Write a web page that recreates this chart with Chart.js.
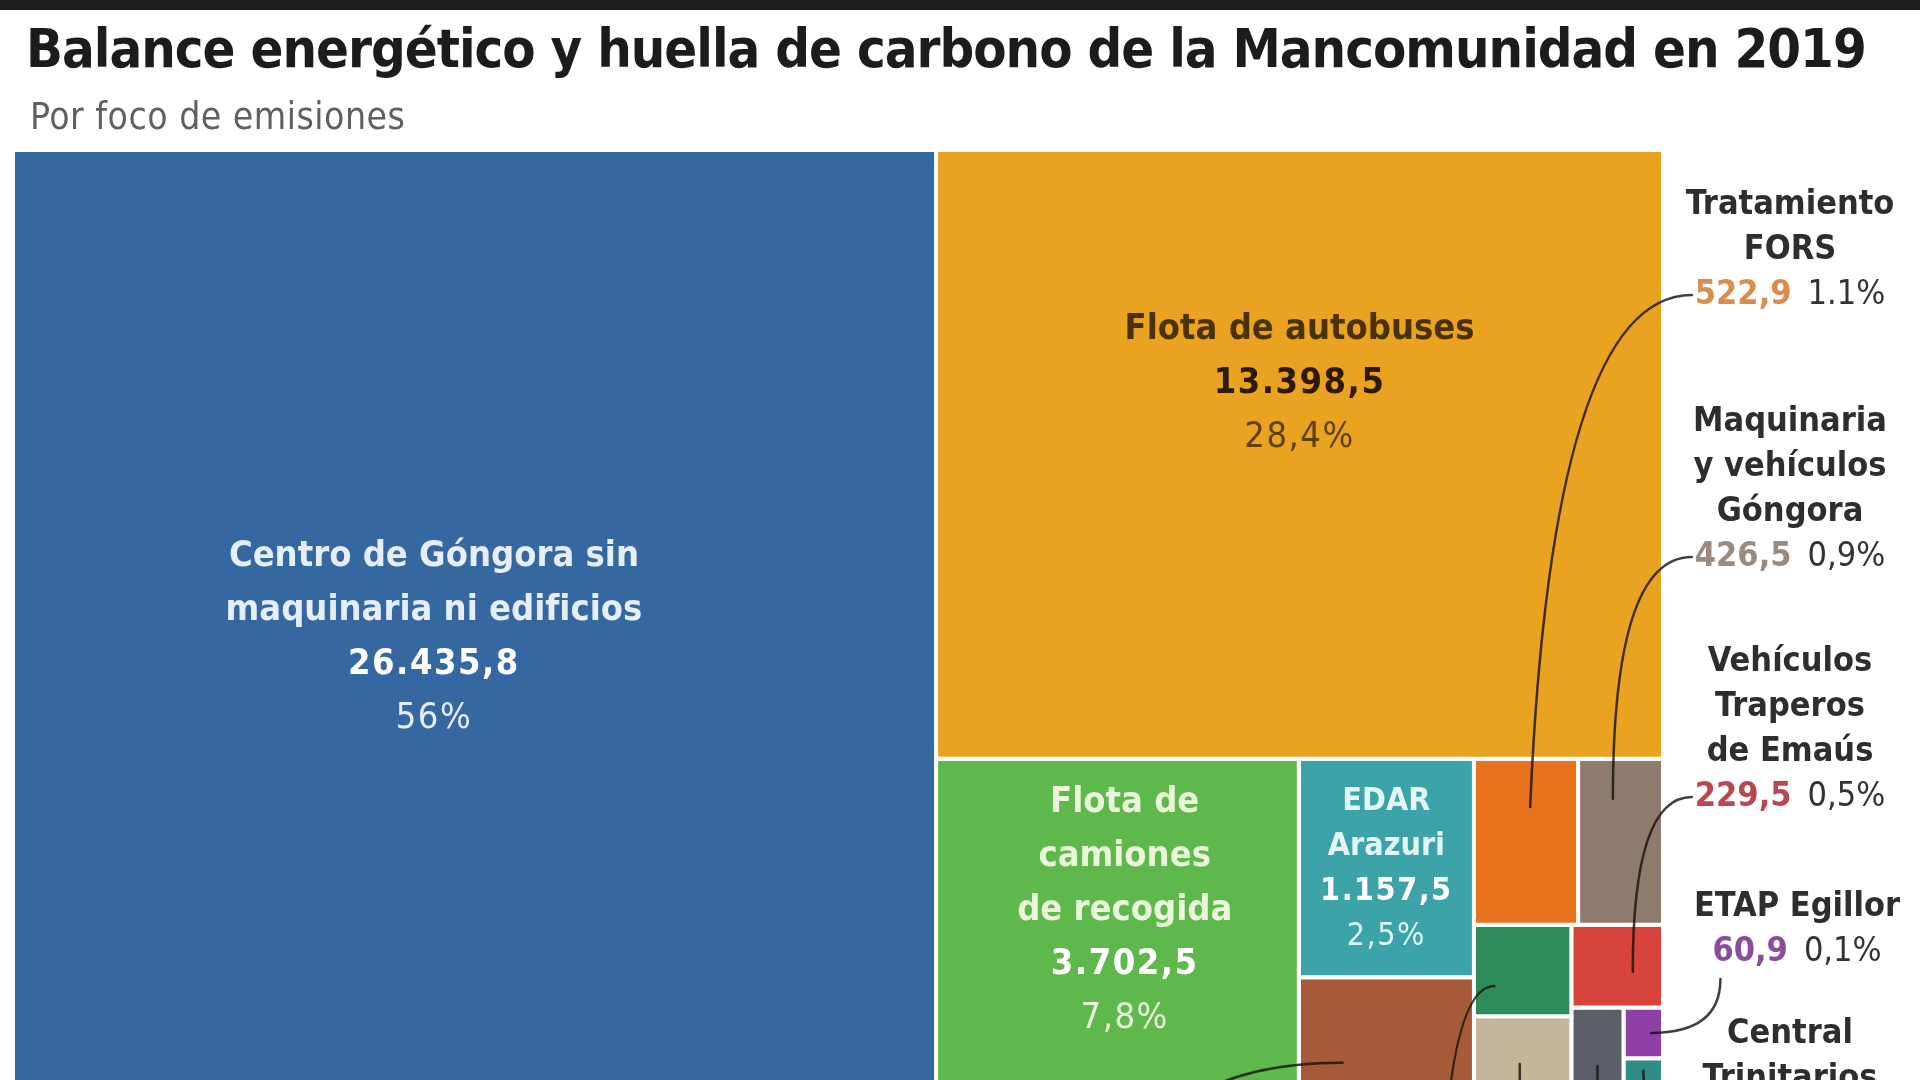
<!DOCTYPE html>
<html lang="es">
<head>
<meta charset="utf-8">
<title>Balance energético y huella de carbono de la Mancomunidad en 2019</title>
<script src="https://cdn.jsdelivr.net/npm/chart.js@4.4.1/dist/chart.umd.min.js"></script>
<style>
  html, body { margin: 0; padding: 0; background: #fff; overflow: hidden; }
  body { width: 1920px; height: 1080px; position: relative; font-family: 'DejaVu Sans Condensed', 'DejaVu Sans', sans-serif; }
  .topbar { position: absolute; left: 0; top: 0; width: 1920px; height: 10px; background: #1e1e1c; }
  #treemap { position: absolute; left: 0; top: 0; }
  h1 { position: absolute; left: 26px; top: 17px; margin: 0; font-size: 54px; line-height: 64px; font-weight: bold; color: #1c1c1c; letter-spacing: -1px; white-space: nowrap; }
  .sub { position: absolute; left: 30px; top: 97px; font-size: 37px; line-height: 40px; color: #606060; letter-spacing: 0.5px; }
</style>
</head>
<body>
<canvas id="treemap" width="1920" height="1100"></canvas>
<div class="topbar"></div>
<h1>Balance energético y huella de carbono de la Mancomunidad en 2019</h1>
<div class="sub">Por foco de emisiones</div>
<script>
// 1. DATOS: emisiones por foco (t CO2 eq, 2019)
// null = foco cuyo rótulo queda fuera del recorte de la imagen
const focos = [
  'Centro de Góngora sin maquinaria ni edificios',
  'Flota de autobuses',
  'Flota de camiones de recogida',
  'EDAR Arazuri',
  null,
  'Tratamiento FORS',
  'Maquinaria y vehículos Góngora',
  null,
  null,
  'Vehículos Traperos de Emaús',
  null,
  'ETAP Egillor',
  'Central Trinitarios'
];
const emisiones = [26435.8, 13398.5, 3702.5, 1157.5, 630, 522.9, 426.5, 270, 235, 229.5, 140, 60.9, 45];
const porcentajes = ['56%', '28,4%', '7,8%', '2,5%', '', '1.1%', '0,9%', '', '', '0,5%', '', '0,1%', ''];
const colores = ['#3567a0', '#eaa320', '#5fb84b', '#3ca3a9', '#a75a37', '#e8721d', '#8f7a6f',
                 '#2e8c5b', '#c4b69b', '#d8433b', '#5a5e66', '#8e40a7', '#2f8c86'];

// marco del treemap (unidades de las escalas)
const MARCO_W = 1650, MARCO_H = 946;

// 2. ROTULOS (solo colocación y estilo)
const rotulosDentro = [
  { i: 0, lineas: ['Centro de Góngora sin', 'maquinaria ni edificios'], fx: 0.456, fy: 0.515, lh: 54, size: 36,
    texto: '#e6eef7', valor: '#ffffff', pct: '#e6eef7' },
  { i: 1, lineas: ['Flota de autobuses'], fx: 0.5, fy: 0.384, lh: 54, size: 36,
    texto: '#4a3208', valor: '#2b1a04', pct: '#5e400c' },
  { i: 2, lineas: ['Flota de', 'camiones', 'de recogida'], fx: 0.52, fy: 0.45, lh: 54, size: 36,
    texto: '#eaf6dc', valor: '#ffffff', pct: '#eaf6dc' },
  { i: 3, lineas: ['EDAR', 'Arazuri'], fx: 0.5, fy: 0.505, lh: 45, size: 32,
    texto: '#e2f6f6', valor: '#ffffff', pct: '#e2f6f6' }
];
const rotulosFuera = [
  { i: 5, lineas: ['Tratamiento', 'FORS'], x: 1790, y: 205, desde: [0.54, 0.29], color: '#dc8d4b', curva: 'vh', dx: 22 },
  { i: 6, lineas: ['Maquinaria', 'y vehículos', 'Góngora'], x: 1790, y: 422, desde: [0.41, 0.24], color: '#9a8a80', curva: 'vh' },
  { i: 9, lineas: ['Vehículos', 'Traperos', 'de Emaús'], x: 1790, y: 662, desde: [0.67, 0.57], color: '#b9474f', curva: 'vh' },
  { i: 11, lineas: ['ETAP Egillor'], x: 1797, y: 907, desde: [0.7, 0.5], color: '#8b4c9c', curva: 'hv' },
  { i: 12, lineas: ['Central', 'Trinitarios'], x: 1790, y: 1034, desde: [0.5, 0.33], curva: 'vh', hacia: [1700, 1122] }
];
// guías hacia rótulos que quedan por debajo del recorte
const guiasSueltas = [
  { i: 4, desde: [0.25, 0.72], hacia: [1120, 1250], curva: 'hv' },
  { i: 7, desde: [0.21, 0.67], hacia: [1440, 1300], curva: 'hv' },
  { i: 8, desde: [0.47, 0.6], hacia: [1560, 1250], curva: 'vh' },
  { i: 10, desde: [0.5, 0.66], hacia: [1640, 1250], curva: 'vh' }
];

const FUENTE = '"DejaVu Sans Condensed", "DejaVu Sans", sans-serif';

function formatoES(v) {
  const [ent, dec] = v.toFixed(1).split('.');
  return ent.replace(/\B(?=(\d{3})+(?!\d))/g, '.') + ',' + dec;
}

// 3. TREEMAP SQUARIFIED (orden de los datos)
function squarify(values, x0, y0, x1, y1) {
  const rects = [];
  const n = values.length;
  let value = values.reduce((a, b) => a + b, 0);
  let i0 = 0;
  while (i0 < n) {
    const dx = x1 - x0, dy = y1 - y0;
    let i1 = i0;
    let sum = values[i1++], minV = sum, maxV = sum;
    const alpha = Math.max(dy / dx, dx / dy) / value;
    let beta = sum * sum * alpha;
    let minRatio = Math.max(maxV / beta, beta / minV);
    for (; i1 < n; ++i1) {
      const v = values[i1];
      const s = sum + v;
      const mn = Math.min(minV, v), mx = Math.max(maxV, v);
      beta = s * s * alpha;
      const r = Math.max(mx / beta, beta / mn);
      if (r > minRatio) break;
      sum = s; minV = mn; maxV = mx; minRatio = r;
    }
    if (dx < dy) { // fila arriba
      const h = dy * sum / value;
      let x = x0;
      for (let k = i0; k < i1; k++) {
        const w = dx * values[k] / sum;
        rects[k] = { x0: x, x1: x + w, y0: y0, y1: y0 + h };
        x += w;
      }
      y0 += h;
    } else { // columna a la izquierda
      const w = dx * sum / value;
      let y = y0;
      for (let k = i0; k < i1; k++) {
        const h = dy * values[k] / sum;
        rects[k] = { x0: x0, x1: x0 + w, y0: y, y1: y + h };
        y += h;
      }
      x0 += w;
    }
    value -= sum;
    i0 = i1;
  }
  return rects;
}

const celdas = squarify(emisiones, 0, 0, MARCO_W, MARCO_H);

const datasets = celdas.map((r, k) => ({
  label: focos[k] || '',
  data: [
    { x: r.x0, y: r.y0 }, { x: r.x1, y: r.y0 }, { x: r.x1, y: r.y1 },
    { x: r.x0, y: r.y1 }, { x: r.x0, y: r.y0 }
  ],
  backgroundColor: colores[k],
  fill: 'shape'
}));

// 4. PLUGIN: textos y guías
const rotulos = {
  id: 'rotulos',
  afterDatasetsDraw(chart) {
    const { ctx } = chart;
    const sx = chart.scales.x, sy = chart.scales.y;
    const punto = (k, fx, fy) => {
      const r = celdas[k];
      return { x: sx.getPixelForValue(r.x0 + (r.x1 - r.x0) * fx), y: sy.getPixelForValue(r.y0 + (r.y1 - r.y0) * fy) };
    };
    const guia = (a, b, curva, dx = 0) => {
      const c = curva === 'vh' ? { x: a.x + dx, y: b.y } : { x: b.x, y: a.y };
      ctx.beginPath();
      ctx.moveTo(a.x, a.y);
      ctx.quadraticCurveTo(c.x, c.y, b.x, b.y);
      ctx.stroke();
    };

    ctx.save();
    ctx.textAlign = 'center';
    ctx.textBaseline = 'middle';

    // rótulos dentro de las celdas
    rotulosDentro.forEach(o => {
      const p = punto(o.i, o.fx, o.fy);
      const filas = o.lineas.length + 2;
      const y0 = p.y - (filas - 1) / 2 * o.lh;
      ctx.letterSpacing = '0px';
      ctx.fillStyle = o.texto;
      ctx.font = `bold ${o.size}px ${FUENTE}`;
      o.lineas.forEach((t, j) => ctx.fillText(t, p.x, y0 + j * o.lh));
      ctx.letterSpacing = '1.5px';
      ctx.fillStyle = o.valor;
      ctx.fillText(formatoES(emisiones[o.i]), p.x, y0 + o.lineas.length * o.lh);
      ctx.font = `${o.size}px ${FUENTE}`;
      ctx.fillStyle = o.pct;
      ctx.fillText(porcentajes[o.i], p.x, y0 + (o.lineas.length + 1) * o.lh);
    });

    // guías
    ctx.strokeStyle = 'rgba(25, 20, 15, 0.82)';
    ctx.lineWidth = 2.5;
    ctx.lineCap = 'round';
    const LH = 45, TAM = 34, HUECO = 16;
    rotulosFuera.forEach(o => {
      const yv = o.y + o.lineas.length * LH;
      let fin;
      if (o.hacia) {
        fin = { x: o.hacia[0], y: o.hacia[1] };
      } else {
        ctx.letterSpacing = '0px';
        ctx.font = `bold ${TAM}px ${FUENTE}`;
        const wv = ctx.measureText(formatoES(emisiones[o.i])).width;
        ctx.font = `${TAM}px ${FUENTE}`;
        const wp = ctx.measureText(porcentajes[o.i]).width;
        const izq = o.x - (wv + HUECO + wp) / 2;
        fin = o.curva === 'vh' ? { x: izq - 3, y: yv } : { x: izq + 8, y: yv + 27 };
        o._izq = izq; o._wv = wv;
      }
      guia(punto(o.i, o.desde[0], o.desde[1]), fin, o.curva, o.dx);
    });
    guiasSueltas.forEach(g => guia(punto(g.i, g.desde[0], g.desde[1]), { x: g.hacia[0], y: g.hacia[1] }, g.curva));

    // rótulos a la derecha
    rotulosFuera.forEach(o => {
      ctx.textAlign = 'center';
      ctx.letterSpacing = '0px';
      ctx.font = `bold ${TAM}px ${FUENTE}`;
      ctx.fillStyle = '#2e2e2e';
      o.lineas.forEach((t, j) => ctx.fillText(t, o.x, o.y + j * LH));
      if (o.hacia) return;
      const yv = o.y + o.lineas.length * LH;
      ctx.textAlign = 'left';
      ctx.fillStyle = o.color;
      ctx.fillText(formatoES(emisiones[o.i]), o._izq, yv);
      ctx.font = `${TAM}px ${FUENTE}`;
      ctx.fillStyle = '#333';
      ctx.fillText(porcentajes[o.i], o._izq + o._wv + HUECO, yv);
    });
    ctx.restore();
  }
};

new Chart(document.getElementById('treemap'), {
  type: 'line',
  data: { datasets },
  options: {
    responsive: false,
    animation: false,
    events: [],
    layout: { padding: { left: 13, top: 150, right: 257, bottom: 4 } },
    scales: {
      x: { type: 'linear', min: 0, max: MARCO_W, display: false },
      y: { type: 'linear', min: 0, max: MARCO_H, reverse: true, display: false }
    },
    elements: {
      point: { radius: 0, hoverRadius: 0 },
      line: { tension: 0, borderWidth: 4, borderColor: '#ffffff', borderJoinStyle: 'miter' }
    },
    plugins: { legend: { display: false }, tooltip: { enabled: false } }
  },
  plugins: [rotulos]
});
</script>
</body>
</html>
